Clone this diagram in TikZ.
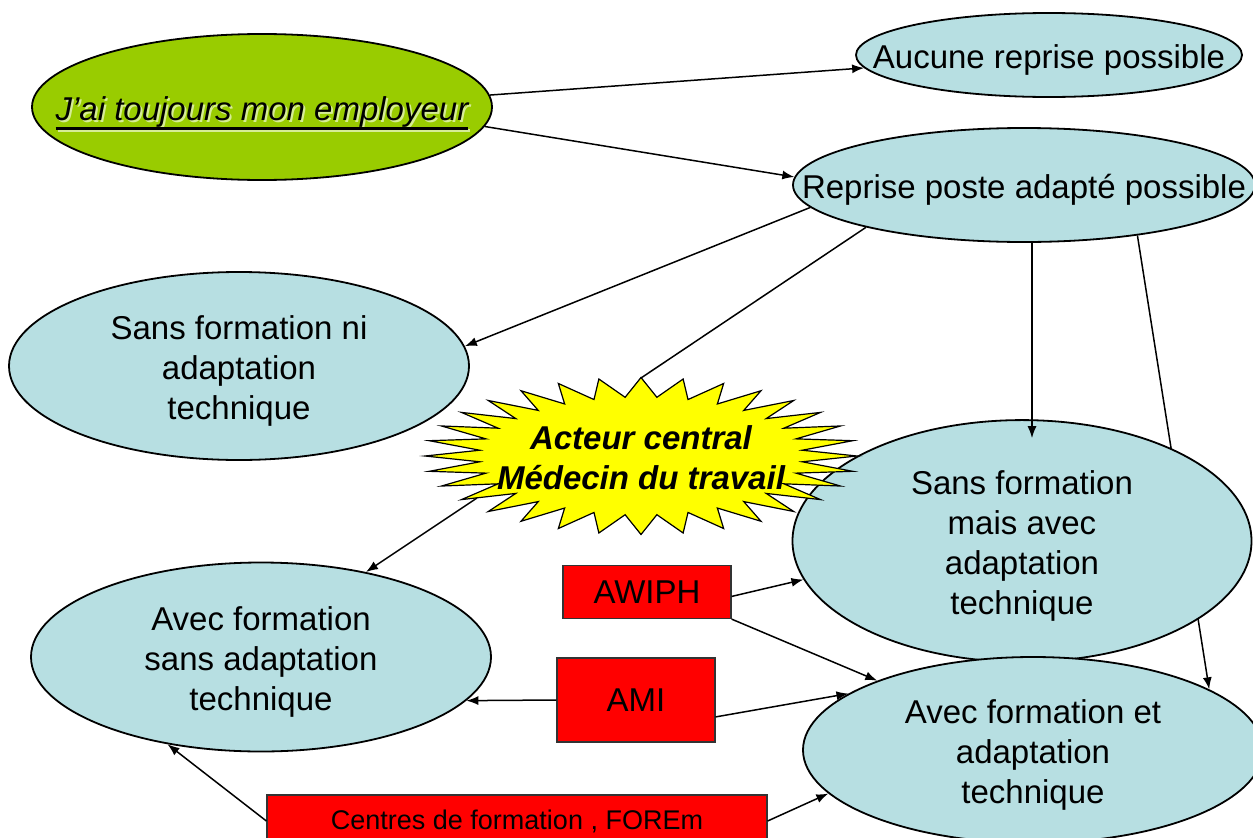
\documentclass[tikz,border=0pt]{standalone}
\usepackage{fontspec}
\setmainfont{Liberation Sans}
\usetikzlibrary{arrows.meta,shapes.geometric,calc,backgrounds}
\definecolor{bulblue}{RGB}{183,223,226}
\definecolor{empgreen}{RGB}{153,204,0}
\definecolor{burst}{RGB}{255,255,0}
\definecolor{shadegreen}{RGB}{214,236,150}
\newcommand{\mltext}[1]{\makebox[0pt]{\begin{tabular}{@{}c@{}}\rule{0pt}{39pt}#1\end{tabular}}}
\newcommand{\souligne}[1]{{\setbox0\hbox{#1}\rlap{\rule[-9pt]{\wd0}{2.5pt}}\box0}}
\newcommand{\ombre}[1]{\rlap{\kern2pt\raisebox{-2pt}{\color{shadegreen}\souligne{#1}}}\souligne{#1}}

\begin{document}
\begin{tikzpicture}[x=1pt,y=-1pt,line width=1.5pt,
   font=\fontsize{33}{40}\selectfont,
   >={Latex[length=12pt,width=9pt]},
   bul/.style={draw,ellipse,fill=bulblue,line width=1.8pt,inner sep=0pt},
   rbox/.style={draw=black!80,fill=red,line width=1.2pt,inner sep=0pt}]
  \useasboundingbox (0,0) rectangle (1253,838);
  \node[bul,fill=empgreen,minimum width=460pt,minimum height=146pt] (emp) at (262,107)
       {\mltext{\itshape\ombre{J’ai toujours mon employeur}}};
  \node[bul,minimum width=386pt,minimum height=84pt] (aucune) at (1049,55)
       {\mltext{Aucune reprise possible}};
  \node[bul,minimum width=462pt,minimum height=114pt] (reprise) at (1024,185)
       {\mltext{Reprise poste adapté possible}};
  \node[bul,minimum width=460pt,minimum height=188pt] (sfni) at (239,366)
       {\mltext{Sans formation ni\\adaptation\\technique}};
  \node[bul,minimum width=459pt,minimum height=241pt] (sfma) at (1022,541)
       {\mltext{Sans formation\\mais avec\\adaptation\\technique}};
  \node[bul,minimum width=460pt,minimum height=189pt] (afsa) at (261,657)
       {\mltext{Avec formation\\sans adaptation\\technique}};
  \node[bul,minimum width=460pt,minimum height=186pt] (afet) at (1033,750)
       {\mltext{Avec formation et\\adaptation\\technique}};
  % the 32-point star round the central actor
  \draw[fill=burst,line width=1.2pt,shift={(641,456)}] (216,0)
       \foreach \i in {0,...,31}{
         -- ({162*cos(\i*11.25+5.625)},{59*sin(\i*11.25+5.625)})
         -- ({216*cos((\i+1)*11.25)},{78.5*sin((\i+1)*11.25)})} -- cycle;
  \node[font=\fontsize{33}{40}\selectfont\bfseries\itshape] (star) at (641,456)
       {\mltext{Acteur central\\Médecin du travail}};
  \coordinate (startop) at ($(star.center)+(0,-78)$);
  \coordinate (starsw) at ($(star.center)+(-164,42)$);
  \node[rbox,minimum width=168pt,minimum height=53pt] (awiph) at (647,592) {AWIPH};
  \node[rbox,minimum width=158pt,minimum height=84pt] (ami) at (636,700) {AMI};
  \node[rbox,minimum width=500pt,minimum height=52pt,font=\fontsize{27}{32}\selectfont]
       (centres) at (517,821) {Centres de formation , FOREm};
  % connectors
  \draw[->] (emp.3) -- (aucune.184);
  \draw[->] (emp.-5) -- (reprise.178);
  \draw[->] (reprise.186) -- (sfni.5);
  \draw (reprise.195) -- (startop);
  \draw[->] ([xshift=8pt]reprise.south) -- ([xshift=10pt,yshift=-19pt]sfma.north);
  \begin{scope}[on background layer]
    \draw[->,line width=1.5pt] (reprise.-24) -- (afet.19);
  \end{scope}
  \draw[->] (starsw) -- (afsa.39);
  \draw[->] (awiph.-3) -- (sfma.190);
  \draw[->] (awiph.south east) -- (afet.156);
  \draw[->] (ami.west) -- (afsa.-12);
  \draw[->] (ami.-12) -- (afet.163);
  \draw[->] (centres.west) -- (afsa.223);
  \draw[->] (centres.east) -- (afet.192);
\end{tikzpicture}
\end{document}
